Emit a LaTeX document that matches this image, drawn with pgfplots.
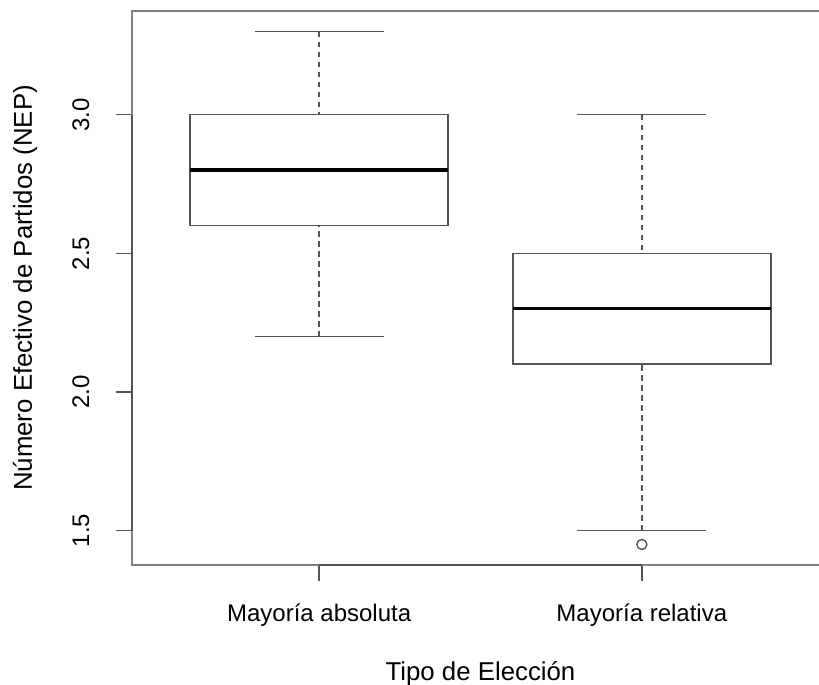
\documentclass[border=0pt]{standalone}
\usepackage{fontspec}
\setmainfont{Liberation Sans}
\usepackage{pgfplots}
\pgfplotsset{compat=1.18}
\usepgfplotslibrary{statistics}
\definecolor{framec}{gray}{0.5}
\definecolor{boxc}{gray}{0.33}
\begin{document}
\begin{tikzpicture}
\pgfplotsset{
  boxplot/draw direction=y,
  boxplot/draw/lower whisker/.code={%
    \draw[boxc,line width=0.8pt,dash pattern=on 2.6pt off 2.4pt]
      (boxplot cs:\pgfplotsboxplotvalue{lower whisker}) -- (boxplot cs:\pgfplotsboxplotvalue{lower quartile});
    \draw[boxc,line width=0.8pt]
      (boxplot whisker cs:\pgfplotsboxplotvalue{lower whisker},0) -- (boxplot whisker cs:\pgfplotsboxplotvalue{lower whisker},1);
  },
  boxplot/draw/upper whisker/.code={%
    \draw[boxc,line width=0.8pt,dash pattern=on 2.6pt off 2.4pt]
      (boxplot cs:\pgfplotsboxplotvalue{upper whisker}) -- (boxplot cs:\pgfplotsboxplotvalue{upper quartile});
    \draw[boxc,line width=0.8pt]
      (boxplot whisker cs:\pgfplotsboxplotvalue{upper whisker},0) -- (boxplot whisker cs:\pgfplotsboxplotvalue{upper whisker},1);
  },
  boxplot/every median/.style={black,line width=1.7pt},
}
\begin{axis}[
  scale only axis, width=348.5pt, height=277pt,
  xmin=0.42, xmax=2.58, ymin=1.376, ymax=3.374,
  clip=false,
  axis line style={framec, line width=0.8pt},
  xtick={1,2}, xticklabels={Mayoría absoluta, Mayoría relativa},
  ytick={1.5,2,2.5,3},
  yticklabel style={rotate=90, anchor=south,
    /pgf/number format/fixed, /pgf/number format/fixed zerofill,
    /pgf/number format/precision=1},
  /pgf/number format/assume math mode=true,
  xticklabel shift=8pt, yticklabel shift=10pt,
  tick align=outside, tick pos=left, major tick length=7.8pt,
  tick style={boxc, line width=0.8pt},
  ticklabel style={font=\fontsize{12}{14}\selectfont},
  label style={font=\fontsize{12.9}{15}\selectfont},
  xlabel={Tipo de Elección},
  ylabel={Número Efectivo de Partidos (NEP)},
  xlabel style={at={(axis description cs:0.5,-0.2076)}, anchor=base},
  ylabel style={at={(axis description cs:-0.1435,0.5)}, anchor=base},
]
\addplot[boxplot prepared={draw position=1, lower whisker=2.2, lower quartile=2.6,
   median=2.8, upper quartile=3.0, upper whisker=3.3, box extend=0.8, whisker extend=0.4},
   boxc, line width=0.8pt] coordinates {};
\addplot[boxplot prepared={draw position=2, lower whisker=1.5, lower quartile=2.1,
   median=2.3, upper quartile=2.5, upper whisker=3.0, box extend=0.8, whisker extend=0.4},
   boxc, line width=0.8pt, mark=o, mark size=2.5pt, mark options={boxc, line width=0.7pt}]
   table[row sep=\\, y index=0] {data\\ 1.45\\};
\draw[boxc, line width=0.8pt] (axis cs:1,1.376) -- (axis cs:2,1.376);
\draw[boxc, line width=0.8pt] (axis cs:0.42,1.5) -- (axis cs:0.42,3.0);
\end{axis}
\pgfresetboundingbox
\path[use as bounding box] ([shift={(-66pt,-60pt)}]current axis.south west) rectangle ([shift={(-5pt,5.5pt)}]current axis.north east);
\end{tikzpicture}
\end{document}
